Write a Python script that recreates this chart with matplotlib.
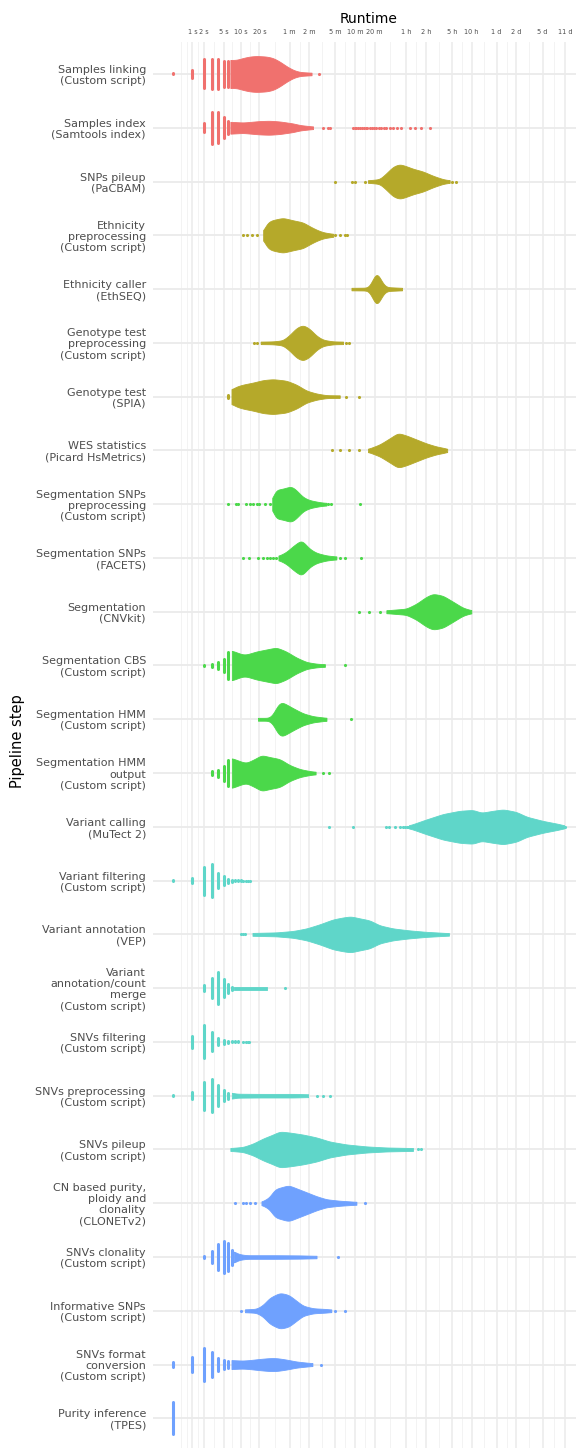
"""
Runtime per pipeline step — beeswarm-style profile.
Values read off the reference figure (runtime in seconds).
"""
import numpy as np
import matplotlib
matplotlib.use("Agg")
import matplotlib.pyplot as plt

steps = [
    "Samples linking\n(Custom script)",
    "Samples index\n(Samtools index)",
    "SNPs pileup\n(PaCBAM)",
    "Ethnicity\npreprocessing\n(Custom script)",
    "Ethnicity caller\n(EthSEQ)",
    "Genotype test\npreprocessing\n(Custom script)",
    "Genotype test\n(SPIA)",
    "WES statistics\n(Picard HsMetrics)",
    "Segmentation SNPs\npreprocessing\n(Custom script)",
    "Segmentation SNPs\n(FACETS)",
    "Segmentation\n(CNVkit)",
    "Segmentation CBS\n(Custom script)",
    "Segmentation HMM\n(Custom script)",
    "Segmentation HMM\noutput\n(Custom script)",
    "Variant calling\n(MuTect 2)",
    "Variant filtering\n(Custom script)",
    "Variant annotation\n(VEP)",
    "Variant\nannotation/count\nmerge\n(Custom script)",
    "SNVs filtering\n(Custom script)",
    "SNVs preprocessing\n(Custom script)",
    "SNVs pileup\n(Custom script)",
    "CN based purity,\nploidy and\nclonality\n(CLONETv2)",
    "SNVs clonality\n(Custom script)",
    "Informative SNPs\n(Custom script)",
    "SNVs format\nconversion\n(Custom script)",
    "Purity inference\n(TPES)",
]
step_group = [0, 0, 1, 1, 1, 1, 1, 1, 2, 2, 2, 2, 2, 2,
              3, 3, 3, 3, 3, 3, 3, 4, 4, 4, 4, 4]
group_colors = ["#F0716E", "#B5A92A", "#4BD84A", "#5FD6C9", "#6FA1FE"]

tick_secs = [1, 2, 5, 10, 20, 60, 120, 300, 600, 1200, 3600, 7200,
             18000, 36000, 86400, 172800, 432000, 950400]
tick_labels = ["1 s", "2 s", "5 s", "10 s", "20 s", "1 m", "2 m", "5 m", "10 m",
               "20 m", "1 h", "2 h", "5 h", "10 h", "1 d", "2 d", "5 d", "11 d"]

# whole-second columns (runtime, relative density)
col_t = [
    [0, 1, 2, 3, 4, 5, 6],
    [0, 1, 2, 3, 4, 5, 6],
    [],
    [],
    [],
    [],
    [2, 3, 4, 5, 6],
    [],
    [],
    [],
    [],
    [2, 3, 4, 5, 6],
    [],
    [2, 3, 4, 5, 6],
    [],
    [0, 1, 2, 3, 4, 5, 6, 7, 8, 9, 10],
    [],
    [1, 2, 3, 4, 5, 6, 7],
    [0, 1, 2, 3, 4, 5, 6, 7, 8, 9, 10],
    [0, 1, 2, 3, 4, 5, 6],
    [],
    [],
    [2, 3, 4, 5, 6, 7],
    [],
    [0, 1, 2, 3, 4, 5, 6],
    [0, 1],
]
col_d = [
    [0.11, 0.28, 0.89, 0.94, 0.94, 0.83, 0.78],
    [0.08, 0.08, 0.33, 0.98, 0.94, 0.67, 0.44],
    [],
    [],
    [],
    [],
    [0.08, 0.08, 0.08, 0.08, 0.17],
    [],
    [],
    [],
    [],
    [0.08, 0.19, 0.28, 0.44, 0.83],
    [],
    [0.08, 0.17, 0.28, 0.5, 0.83],
    [],
    [0.08, 0.22, 0.86, 0.99, 0.5, 0.33, 0.19, 0.14, 0.11, 0.11, 0.1],
    [],
    [0.08, 0.26, 0.65, 0.97, 0.6, 0.33, 0.17],
    [0.08, 0.42, 1.0, 0.61, 0.28, 0.19, 0.14, 0.11, 0.11, 0.11, 0.1],
    [0.11, 0.29, 0.86, 0.99, 0.65, 0.39, 0.26],
    [],
    [],
    [0.15, 0.4, 0.81, 0.97, 0.86, 0.5],
    [],
    [0.22, 0.5, 0.99, 0.79, 0.43, 0.33, 0.28],
    [0.97, 0.08],
]

# continuous part of each swarm (runtime, relative density)
body_t = [
    [6.6, 8.4, 10.9, 14, 18, 26, 33, 42, 53, 68, 86, 130],
    [6.6, 10.9, 20, 29, 42, 68, 86, 137],
    [948, 1429, 1806, 2281, 2878, 3647, 4597, 6530, 9266, 13150, 16630],
    [23, 26, 31, 47, 68, 96, 122, 155, 195, 277],
    [530, 948, 1006, 1130, 1273, 1429, 1606, 1806, 3125],
    [21, 33, 47, 60, 76, 96, 122, 155, 195, 277, 394],
    [6.9, 8.4, 10.9, 15.9, 23, 33, 53, 76, 109, 155, 220, 351],
    [948, 1429, 2028, 2715, 3647, 5170, 7340, 10420, 14800, 15250],
    [32, 35, 47, 63.7, 76, 96, 122, 174, 220],
    [40, 53, 68, 91, 122, 155, 220, 312],
    [1806, 3647, 5170, 7340, 9266, 13150, 18660, 26500, 35560],
    [7, 10.6, 12.4, 18, 26, 37.3, 53, 76, 109, 155, 208],
    [19, 29, 33, 39.5, 44.6, 53, 68, 96, 137, 220],
    [7, 10.6, 12.4, 18, 21.6, 29, 42, 60, 86, 122, 150],
    [4000, 4597, 7340, 13150, 23600, 37900, 50500, 75800, 109300, 172200,
     248300, 437500, 785300, 917000],
    [],
    [15.5, 37.3, 68, 109, 174, 277, 394, 517, 709, 1006, 1429, 2281, 4088,
     7340, 16220],
    [7.5, 26],
    [],
    [7, 8.4, 20, 68, 115],
    [6.6, 10.9, 15.9, 23, 33, 42, 60, 96, 155, 247, 444, 896, 1806, 4597],
    [21.6, 29, 35, 44.6, 57.7, 76, 109, 155, 220, 351, 631],
    [7.6, 9, 12.4, 37.3, 86, 155],
    [11.7, 18, 23, 29, 42, 57.7, 76, 96, 137, 220, 261],
    [6.9, 10.6, 14, 20, 29, 37.3, 53, 76, 109, 134],
    [],
]
body_d = [
    [0.78, 0.78, 0.89, 0.97, 1.0, 0.97, 0.89, 0.69, 0.44, 0.22, 0.11, 0.07],
    [0.33, 0.29, 0.37, 0.39, 0.35, 0.24, 0.15, 0.07],
    [0.07, 0.13, 0.46, 0.83, 0.97, 0.85, 0.71, 0.56, 0.32, 0.13, 0.07],
    [0.17, 0.67, 0.83, 0.97, 0.83, 0.72, 0.5, 0.31, 0.17, 0.08],
    [0.07, 0.08, 0.17, 0.56, 0.97, 0.67, 0.28, 0.11, 0.07],
    [0.07, 0.08, 0.14, 0.44, 0.83, 1.0, 0.78, 0.39, 0.17, 0.08, 0.07],
    [0.39, 0.56, 0.67, 0.78, 0.92, 0.97, 0.89, 0.67, 0.33, 0.17, 0.08, 0.07],
    [0.08, 0.33, 0.67, 0.97, 0.83, 0.61, 0.39, 0.22, 0.11, 0.07],
    [0.17, 0.78, 0.86, 1.0, 0.78, 0.39, 0.22, 0.11, 0.07],
    [0.11, 0.33, 0.67, 1.0, 0.5, 0.28, 0.14, 0.08],
    [0.08, 0.17, 0.44, 0.83, 1.0, 0.89, 0.56, 0.22, 0.08],
    [0.83, 0.61, 0.61, 0.78, 0.89, 1.0, 0.78, 0.44, 0.19, 0.1, 0.07],
    [0.08, 0.08, 0.28, 0.83, 0.97, 0.83, 0.61, 0.33, 0.17, 0.08],
    [0.83, 0.61, 0.56, 0.83, 1.0, 0.89, 0.78, 0.44, 0.22, 0.11, 0.07],
    [0.08, 0.15, 0.41, 0.71, 0.89, 0.94, 0.78, 0.89, 0.97, 0.83, 0.56, 0.33,
     0.15, 0.08],
    [],
    [0.08, 0.11, 0.19, 0.33, 0.56, 0.83, 0.94, 1.0, 0.89, 0.78, 0.5, 0.33,
     0.22, 0.14, 0.07],
    [0.08, 0.08],
    [],
    [0.17, 0.11, 0.1, 0.1, 0.08],
    [0.08, 0.14, 0.33, 0.61, 0.83, 1.0, 0.94, 0.83, 0.67, 0.44, 0.28, 0.17,
     0.11, 0.08],
    [0.08, 0.33, 0.78, 0.89, 1.0, 0.83, 0.61, 0.39, 0.22, 0.14, 0.08],
    [0.33, 0.17, 0.1, 0.1, 0.09, 0.07],
    [0.08, 0.11, 0.33, 0.72, 1.0, 0.89, 0.56, 0.28, 0.14, 0.1, 0.07],
    [0.25, 0.22, 0.25, 0.31, 0.36, 0.36, 0.28, 0.17, 0.11, 0.08],
    [],
]

# isolated runs (seconds)
dot_t = [
    [168],
    [195, 233, 253, 560, 590, 620, 660, 709, 760, 816, 870, 930, 1000, 1080,
     1160, 1273, 1380, 1500, 1650, 1800, 2028, 2300, 2600, 3060, 4088, 4875,
     6160, 8241],
    [294, 548, 593, 845, 18250, 20500],
    [10.9, 12.7, 15, 18.4, 294, 351, 418, 454],
    [],
    [16.4, 18, 444, 486],
    [444, 685],
    [267, 351, 480, 685],
    [6, 8.2, 9, 12, 14, 15.9, 18, 19.8, 24.5, 29, 233, 262, 709],
    [10.9, 13.7, 19, 23, 26, 29, 33, 37.3, 351, 428, 734],
    [690, 980, 1465],
    [418],
    [517],
    [195, 240],
    [240, 568, 1806, 1980, 2420, 2950, 3250, 3530, 3700, 3900, 950400],
    [11, 12, 13, 14],
    [10, 10.9, 11.7],
    [50],
    [11, 12, 13, 13.7],
    [155, 195, 247],
    [5400, 6160],
    [7.9, 10.9, 12, 14, 17.3, 866],
    [331],
    [10, 294, 422],
    [182],
    [],
]


def fwd(t):
    return np.log10(np.clip(1 + np.asarray(t, dtype=float), 1e-9, None))


def inv(u):
    return 10 ** np.asarray(u, dtype=float) - 1


def smooth_profile(t, d, n=300, sigma=0.035):
    # resample the read-off profile on a log grid and round off the corners
    u = fwd(t)
    ug = np.linspace(u[0], u[-1], n)
    dg = np.interp(ug, u, d)
    if len(t) > 2:
        step = ug[1] - ug[0]
        k = max(int(3 * sigma / step), 1)
        x = np.arange(-k, k + 1) * step
        w = np.exp(-0.5 * (x / sigma) ** 2)
        w /= w.sum()
        dg = np.convolve(np.pad(dg, k, mode="edge"), w, mode="valid")
    return inv(ug), dg


ROW_PX = 53.77          # pixel distance between two steps
HALF = 18 / ROW_PX      # half height of density 1.0, in row units
CAP = 1.5 / ROW_PX      # round cap of the columns

fig = plt.figure(figsize=(5.76, 14.48), dpi=100, facecolor="white")
ax = fig.add_axes([0.2655, -0.0018, 0.7495, 0.973])
ax.set_xscale("function", functions=(fwd, inv))
ax.set_axisbelow(True)

for i in range(len(steps)):
    c = group_colors[step_group[i]]
    if body_t[i]:
        tt, dd = smooth_profile(body_t[i], body_d[i])
        dd = dd * HALF
        ax.fill_between(tt, i - dd, i + dd, color=c, linewidth=0.6, zorder=3)
    if col_t[i]:
        h = np.maximum(np.array(col_d[i]) * HALF - CAP, 0.002)
        ax.vlines(col_t[i], i - h, i + h, colors=c, linewidth=2.2,
                  capstyle="round", zorder=3)
    if dot_t[i]:
        ax.scatter(dot_t[i], [i] * len(dot_t[i]), s=5, color=c,
                   linewidths=0, zorder=3)

# ggplot-like limits and grid
umax = fwd(tick_secs[-1])
pad = 0.05 * umax
ax.set_xlim(inv(-pad), inv(umax + pad))
ax.set_ylim(len(steps) - 0.4, -0.6)

mu = fwd(tick_secs)
ext = np.concatenate([[mu[0] - (mu[1] - mu[0])], mu])
minor_u = np.concatenate([[ext[0]], (ext[:-1] + ext[1:]) / 2])
ax.set_xticks(tick_secs)
ax.set_xticklabels(tick_labels)
ax.set_xticks(inv(minor_u), minor=True)
ax.set_yticks(range(len(steps)))
ax.set_yticklabels(steps, fontsize=8, color="#4D4D4D", ha="right",
                   multialignment="right", linespacing=1.15)

ax.grid(True, axis="x", which="major", color="#EBEBEB", linewidth=1.1)
ax.grid(True, axis="x", which="minor", color="#F3F3F3", linewidth=0.7)
ax.grid(True, axis="y", which="major", color="#EBEBEB", linewidth=1.3)

ax.xaxis.tick_top()
ax.xaxis.set_label_position("top")
ax.tick_params(axis="x", which="both", length=0, labelsize=4.7,
               labelcolor="#4D4D4D", pad=5)
ax.tick_params(axis="y", length=0, pad=5)
ax.set_xlabel("Runtime", fontsize=10, labelpad=4)
for s in ax.spines.values():
    s.set_visible(False)

fig.text(18 / 576, 1 - 741 / 1448, "Pipeline step", rotation=90,
         fontsize=10.5, ha="center", va="center")

fig.savefig("out.png", dpi=100, facecolor="white")
